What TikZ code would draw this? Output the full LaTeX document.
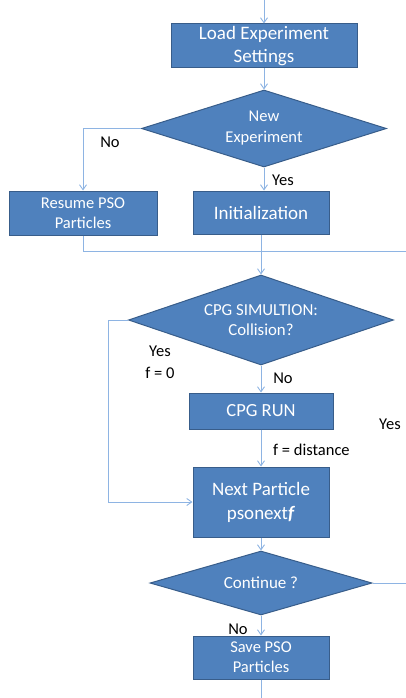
\documentclass[tikz,border=0pt]{standalone}
\usepackage{fontspec}
\setmainfont{Carlito}
\usetikzlibrary{shapes.geometric,arrows.meta}
\definecolor{boxfill}{HTML}{4F81BD}
\definecolor{boxline}{HTML}{385D8A}
\definecolor{conn}{HTML}{8EB4E3}
\tikzset{
  procbox/.style={rectangle, draw=boxline, fill=boxfill, line width=1pt, text=white, align=center, inner sep=0pt},
  decbox/.style={diamond, draw=boxline, fill=boxfill, line width=1pt, text=white, align=center, inner sep=0pt},
  link/.style={draw=conn, line width=0.9pt},
  arr/.style={link, -{Straight Barb[length=5pt,width=7pt]}},
  lbl/.style={text=black, font=\fontsize{16.5}{19}\selectfont, inner sep=0pt}
}
\begin{document}
\begin{tikzpicture}[x=1pt,y=-1pt]
\useasboundingbox (0,0) rectangle (406,698);
\node[procbox, minimum width=186pt, minimum height=44pt, font=\fontsize{19}{23}\selectfont] (load) at (264,46) {Load Experiment\\Settings};
\node[decbox, aspect=3.18, minimum width=245pt, minimum height=77pt, font=\fontsize{16.5}{21}\selectfont] (newexp) at (264,128.5) {New\\Experiment};
\node[procbox, minimum width=148pt, minimum height=44pt, font=\fontsize{16.5}{20}\selectfont] (resume) at (83,213) {Resume PSO\\Particles};
\node[procbox, minimum width=136pt, minimum height=43pt, font=\fontsize{19}{22}\selectfont] (init) at (261,212.5) {Initialization};
\node[decbox, aspect=2.94, minimum width=265pt, minimum height=90pt, font=\fontsize{16.8}{20}\selectfont] (cpg) at (261,320) {CPG SIMULTION:\\Collision?};
\node[procbox, minimum width=144pt, minimum height=36pt, font=\fontsize{18.5}{21}\selectfont] (run) at (261,411) {CPG RUN};
\node[procbox, minimum width=136pt, minimum height=70pt, font=\fontsize{19}{24}\selectfont] (next) at (261,502) {Next Particle\\psonext\textbf{\textit{f}}};
\node[decbox, aspect=3.47, minimum width=222pt, minimum height=64pt, font=\fontsize{17}{20}\selectfont] (cont) at (261,583) {Continue ?};
\node[procbox, minimum width=136pt, minimum height=43pt, font=\fontsize{16.5}{20}\selectfont] (save) at (261,657.5) {Save PSO\\Particles};

\coordinate (topin) at (264,0);
\coordinate (merge) at (406,251);
\coordinate (leftturn) at (108,320);
\coordinate (contout) at (406,583);
\coordinate (bottomout) at (261,698);

\draw[arr] (topin) -- (load.north);
\draw[arr] (load.south) -- (newexp.north);
\draw[arr] (newexp.west) -| (resume.north);
\draw[arr] (newexp.south) -- (newexp.south |- init.north);
\draw[link] (resume.south) |- (merge);
\draw[arr] (init.south) -- (cpg.north);
\draw[arr] (cpg.west) -- (leftturn) |- (next.west);
\draw[arr] (cpg.south) -- (run.north);
\draw[arr] (run.south) -- (next.north);
\draw[arr] (next.south) -- (cont.north);
\draw[link] (cont.east) -- (contout);
\draw[arr] (cont.south) -- (save.north);
\draw[link] (save.south) -- (bottomout);

\node[lbl] (lno1) at (110,142) {No};
\node[lbl] (lyes1) at (283,180) {Yes};
\node[lbl] (lyes2) at (160,351) {Yes};
\node[lbl] (lf0) at (160,373) {f = 0};
\node[lbl] (lno2) at (283,378) {No};
\node[lbl, anchor=west] (lfd) at (273,450) {f = distance};
\node[lbl] (lyes3) at (390,424) {Yes};
\node[lbl] (lno3) at (238,629) {No};
\end{tikzpicture}
\end{document}
